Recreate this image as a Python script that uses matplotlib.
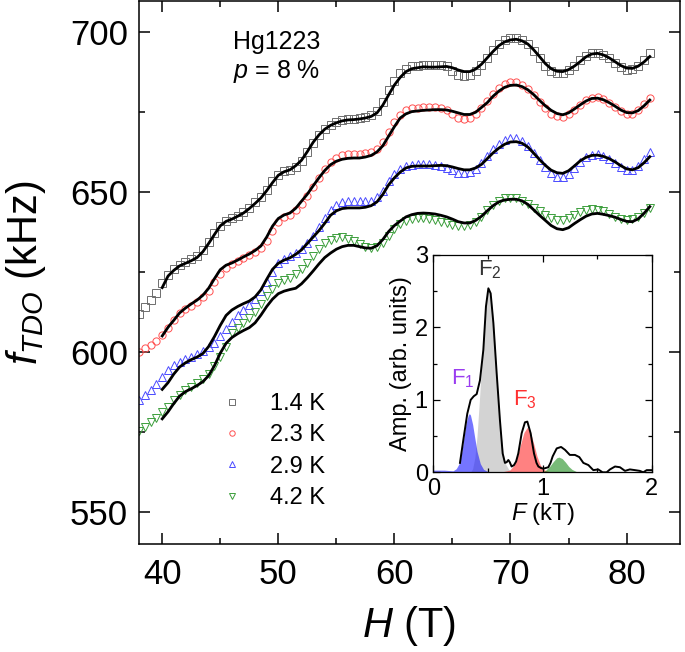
import numpy as np
import matplotlib
matplotlib.use('Agg')
import matplotlib.pyplot as plt
from matplotlib.ticker import MultipleLocator

plt.rcParams['font.family'] = ['Liberation Sans', 'DejaVu Sans']
plt.rcParams['mathtext.fontset'] = 'custom'
plt.rcParams['mathtext.rm'] = 'Liberation Sans'
plt.rcParams['mathtext.it'] = 'Liberation Sans:italic'
plt.rcParams['mathtext.bf'] = 'Liberation Sans:bold'

# ---- main panel: TDO frequency vs field ----
temps = ['1.4 K', '2.3 K', '2.9 K', '4.2 K']

# measured points, H = 38.0 ... 82.0 T every 0.5 T
H_data = np.arange(38.0, 82.01, 0.5)
f_14K = [612.0, 614.2, 616.2, 618.4, 621.6, 624.2, 626.0, 627.3, 628.2, 629.0,
         630.0, 631.8, 634.5, 637.2, 639.6, 641.0, 641.8, 642.7, 643.8, 645.2,
         646.8, 648.6, 650.8, 653.4, 655.5, 656.5, 657.0, 658.0, 659.8, 662.5,
         665.5, 668.0, 669.8, 671.0, 671.9, 672.5, 672.9, 673.0, 673.2, 673.5,
         674.0, 675.5, 678.3, 681.8, 684.8, 687.2, 688.6, 689.3, 689.6, 689.8,
         689.9, 689.9, 689.8, 689.3, 688.0, 686.6, 686.2, 686.6, 687.9, 689.8,
         692.0, 694.3, 696.2, 697.5, 698.2, 698.2, 697.5, 696.2, 694.2, 691.9,
         689.6, 687.9, 687.2, 687.3, 688.2, 689.6, 691.2, 692.6, 693.5, 693.6,
         693.0, 691.8, 690.3, 689.0, 688.3, 688.4, 689.5, 691.3, 693.5]
f_23K = [600.0, 601.4, 602.4, 603.6, 605.5, 607.6, 610.2, 612.2, 613.4, 614.6,
         615.8, 617.3, 619.2, 621.8, 624.5, 626.4, 627.5, 628.4, 629.4, 630.4,
         631.4, 632.6, 634.8, 637.8, 640.6, 642.2, 643.0, 644.4, 646.4, 648.8,
         651.6, 654.4, 657.2, 659.4, 660.8, 661.6, 662.0, 662.1, 662.1, 662.2,
         662.5, 663.4, 665.6, 668.8, 671.8, 674.2, 675.6, 676.2, 676.4, 676.5,
         676.6, 676.5, 676.2, 675.6, 674.4, 673.2, 672.8, 673.2, 674.5, 676.4,
         678.6, 680.8, 682.6, 683.9, 684.5, 684.4, 683.6, 682.2, 680.3, 678.2,
         676.2, 674.6, 673.7, 673.6, 674.4, 675.8, 677.3, 678.7, 679.6, 679.7,
         679.1, 678.0, 676.6, 675.3, 674.5, 674.6, 675.7, 677.6, 679.5]
f_29K = [585.0, 586.8, 588.2, 590.0, 592.2, 594.6, 596.0, 597.0, 597.8, 598.6,
         599.4, 600.3, 601.5, 603.0, 605.0, 607.4, 609.6, 611.6, 613.2, 614.8,
         616.6, 619.0, 622.0, 625.2, 627.8, 629.2, 630.0, 631.0, 632.4, 634.2,
         636.4, 639.0, 641.8, 644.4, 646.0, 646.9, 647.3, 647.4, 647.3, 647.2,
         647.4, 648.4, 650.5, 653.4, 655.8, 657.4, 658.2, 658.6, 658.7, 658.8,
         658.8, 658.6, 658.2, 657.6, 656.8, 656.1, 655.9, 656.3, 657.4, 659.2,
         661.3, 663.4, 665.1, 666.3, 666.9, 666.8, 666.0, 664.4, 662.3, 660.0,
         657.8, 656.0, 654.9, 654.8, 655.8, 657.6, 659.5, 660.9, 661.7, 661.8,
         661.3, 660.3, 659.0, 657.8, 657.0, 657.1, 658.2, 660.3, 662.5]
f_42K = [575.5, 576.8, 578.3, 579.6, 581.3, 582.9, 585.0, 586.7, 588.2, 589.3,
         590.4, 591.6, 593.2, 595.6, 598.6, 601.8, 606.0, 607.6, 609.0, 610.6,
         612.6, 615.0, 617.6, 619.8, 621.5, 622.5, 623.2, 624.3, 626.0, 628.0,
         630.2, 632.3, 634.0, 635.2, 635.8, 635.9, 635.5, 634.8, 633.8, 632.9,
         632.5, 632.8, 634.2, 636.3, 638.4, 640.0, 641.0, 641.6, 641.8, 641.8,
         641.6, 641.2, 640.8, 640.3, 639.8, 639.4, 639.3, 639.7, 640.8, 642.4,
         644.3, 646.0, 647.3, 648.1, 648.3, 648.1, 647.4, 646.4, 645.2, 644.0,
         642.8, 641.9, 641.4, 641.4, 641.9, 642.8, 643.7, 644.4, 644.7, 644.6,
         644.0, 643.1, 642.2, 641.6, 641.4, 641.6, 642.4, 643.6, 645.0]

# fits, H = 40.0 ... 82.0 T every 0.5 T
H_fit = np.arange(40.0, 82.01, 0.5)
fit_14K = [620.2, 623.8, 625.6, 627.0, 627.8, 628.6, 629.6, 631.4, 634.0, 636.8,
           639.5, 640.9, 641.6, 642.5, 643.5, 644.9, 646.5, 648.2, 650.5, 653.0,
           655.3, 656.4, 657.0, 658.3, 660.0, 662.7, 665.6, 667.9, 669.7, 670.9,
           671.7, 672.3, 672.6, 672.7, 672.9, 673.2, 673.7, 674.8, 677.2, 680.4,
           683.5, 685.9, 687.7, 688.6, 688.9, 689.2, 689.1, 689.1, 689.2, 689.3,
           688.9, 688.2, 687.7, 687.7, 688.5, 690.0, 692.0, 694.0, 695.8, 697.0,
           697.6, 697.8, 697.3, 696.3, 694.5, 692.4, 690.2, 688.6, 687.8, 687.7,
           688.3, 689.4, 690.8, 692.3, 693.2, 693.4, 692.9, 692.0, 690.8, 689.6,
           688.8, 688.7, 689.4, 690.7, 692.4]
fit_23K = [605.1, 607.8, 610.0, 612.3, 613.8, 615.1, 616.3, 617.8, 620.0, 623.0,
           625.8, 627.2, 627.9, 628.8, 629.8, 630.7, 631.8, 633.2, 636.0, 639.4,
           641.8, 642.9, 643.5, 645.0, 647.2, 649.4, 652.0, 654.5, 656.8, 658.6,
           659.7, 660.3, 660.6, 660.7, 660.7, 661.0, 661.5, 662.6, 664.5, 667.5,
           670.5, 673.2, 674.5, 675.2, 675.4, 675.6, 675.7, 675.8, 675.8, 675.7,
           675.3, 674.8, 674.3, 674.3, 675.0, 676.5, 678.0, 680.0, 681.6, 682.8,
           683.4, 683.5, 683.0, 682.0, 680.5, 678.7, 677.0, 675.6, 674.6, 674.2,
           674.8, 676.0, 677.3, 678.5, 679.3, 679.4, 678.9, 678.0, 676.9, 675.7,
           674.9, 674.8, 675.5, 677.0, 678.8]
fit_29K = [588.4, 590.5, 593.2, 595.4, 596.7, 597.7, 598.5, 599.6, 601.8, 604.9,
           608.4, 611.5, 613.2, 614.3, 615.2, 616.0, 617.3, 619.5, 622.8, 625.9,
           627.8, 628.8, 629.5, 630.6, 632.0, 634.0, 636.0, 638.0, 640.3, 642.8,
           644.2, 644.9, 645.1, 645.1, 645.1, 645.3, 645.8, 647.0, 649.3, 652.3,
           654.5, 656.3, 657.6, 658.1, 658.2, 658.2, 658.2, 658.3, 658.4, 658.3,
           657.9, 657.4, 657.0, 657.0, 657.6, 658.7, 660.5, 662.3, 663.8, 665.0,
           665.7, 665.8, 665.3, 664.1, 662.2, 660.2, 658.4, 656.9, 656.1, 655.9,
           656.7, 658.2, 659.8, 660.9, 661.5, 661.6, 661.2, 660.5, 659.5, 658.3,
           657.3, 657.0, 657.7, 659.2, 661.1]
fit_42K = [579.2, 581.4, 584.0, 586.3, 587.7, 588.6, 589.6, 590.8, 592.7, 595.8,
           599.7, 602.8, 604.6, 605.8, 606.8, 607.7, 609.2, 611.6, 614.3, 616.6,
           618.3, 619.1, 619.6, 620.0, 621.4, 623.3, 625.4, 627.6, 629.6, 631.0,
           632.2, 633.0, 633.4, 633.4, 633.0, 632.6, 632.5, 633.3, 635.2, 637.7,
           639.6, 641.0, 642.3, 643.0, 643.4, 643.5, 643.4, 643.2, 642.8, 642.3,
           641.6, 640.8, 640.4, 640.4, 641.2, 642.5, 644.2, 645.8, 647.0, 647.6,
           647.8, 647.8, 647.3, 646.2, 644.5, 642.8, 641.2, 639.6, 638.6, 638.3,
           638.9, 640.2, 641.4, 642.5, 643.2, 643.4, 643.1, 642.7, 642.2, 641.5,
           640.9, 640.8, 641.7, 643.4, 645.5]

# ---- inset: FFT amplitude ----
fft_F = [0.244, 0.275, 0.311, 0.342, 0.37, 0.397, 0.427, 0.458, 0.482, 0.504,
         0.525, 0.55, 0.58, 0.61, 0.635, 0.656, 0.672, 0.687, 0.70, 0.717,
         0.739, 0.758, 0.778, 0.809, 0.839, 0.861, 0.891, 0.922, 0.945, 0.962,
         0.985, 1.007, 1.03, 1.053, 1.073, 1.093, 1.13, 1.17, 1.206, 1.25,
         1.297, 1.337, 1.374, 1.42, 1.465, 1.51, 1.55, 1.587, 1.618, 1.664,
         1.709, 1.755, 1.80, 1.847, 1.89, 1.923, 1.954, 2.0]
fft_A = [0.13, 0.45, 0.81, 1.0, 1.05, 1.08, 1.27, 1.69, 2.29, 2.54,
         2.47, 2.06, 1.37, 0.72, 0.26, 0.13, 0.14, 0.17, 0.14, 0.08,
         0.10, 0.15, 0.26, 0.54, 0.69, 0.70, 0.54, 0.26, 0.13, 0.08,
         0.06, 0.05, 0.06, 0.07, 0.13, 0.22, 0.33, 0.35, 0.31, 0.24,
         0.24, 0.21, 0.13, 0.10, 0.03, 0.04, 0.0, 0.0, 0.04, 0.08,
         0.07, 0.02, 0.04, 0.03, 0.02, 0.0, 0.03, 0.03]

pk1_F = [0.0, 0.1, 0.18, 0.21, 0.24, 0.26, 0.28, 0.30, 0.32, 0.33, 0.34, 0.36,
         0.38, 0.40, 0.43, 0.46, 0.50]
pk1_A = [0.03, 0.03, 0.02, 0.05, 0.13, 0.28, 0.48, 0.68, 0.79, 0.81, 0.79, 0.66,
         0.47, 0.29, 0.12, 0.04, 0.01]
pk2_F = [0.34, 0.36, 0.38, 0.40, 0.42, 0.44, 0.46, 0.48, 0.50, 0.52, 0.54, 0.56,
         0.58, 0.60, 0.62, 0.64, 0.66, 0.69, 0.72]
pk2_A = [0.0, 0.05, 0.2, 0.5, 0.95, 1.45, 1.95, 2.35, 2.54, 2.5, 2.25, 1.85,
         1.35, 0.9, 0.52, 0.26, 0.12, 0.04, 0.01]
pk3_F = [0.60, 0.64, 0.70, 0.74, 0.77, 0.80, 0.83, 0.86, 0.89, 0.92, 0.95, 0.98,
         1.02, 1.08]
pk3_A = [0.01, 0.01, 0.03, 0.1, 0.22, 0.39, 0.55, 0.62, 0.55, 0.39, 0.22, 0.1,
         0.03, 0.0]
pk4_F = [0.98, 1.03, 1.07, 1.10, 1.13, 1.15, 1.18, 1.21, 1.24, 1.27, 1.31, 1.36]
pk4_A = [0.0, 0.03, 0.09, 0.15, 0.2, 0.21, 0.19, 0.14, 0.08, 0.04, 0.01, 0.0]


fig = plt.figure(figsize=(6.85, 6.52), dpi=100)
ax = fig.add_axes([0.2029, 0.1652, 0.7898, 0.8325])

styles = [('s', '#6e6e6e'), ('o', '#ff5050'), ('^', '#4a4aff'), ('v', '#3c9e3c')]
series = [f_14K, f_23K, f_29K, f_42K]
fits = [fit_14K, fit_23K, fit_29K, fit_42K]
for (m, c), y, lab in zip(styles, series, temps):
    ax.plot(H_data, y, ls='none', marker=m, ms=5.2, mfc='none', mec=c, mew=0.7,
            label=lab)
for y in fits:
    ax.plot(H_fit, y, color='black', lw=2.0, zorder=5)

ax.set_xlim(38, 84.6)
ax.set_ylim(540, 709.6)
ax.xaxis.set_major_locator(MultipleLocator(10))
ax.xaxis.set_minor_locator(MultipleLocator(5))
ax.yaxis.set_major_locator(MultipleLocator(50))
ax.yaxis.set_minor_locator(MultipleLocator(25))
ax.tick_params(which='both', direction='in', top=True, right=True, width=1.1)
ax.tick_params(which='major', length=8, labelsize=25, pad=8)
ax.tick_params(which='minor', length=4.5)
ax.tick_params(axis='x', which='major', pad=10)
for s in ax.spines.values():
    s.set_linewidth(1.1)
ax.set_xlabel('$H$ (T)', fontsize=30, labelpad=9)
ax.set_ylabel('$f_{TDO}$ (kHz)', fontsize=30, labelpad=16)

ax.text(0.174, 0.948, 'Hg1223\n$p$ = 8 %', transform=ax.transAxes,
        fontsize=18, va='top', ha='left', linespacing=1.2)

ax.legend(loc='upper left', bbox_to_anchor=(0.150, 0.279), frameon=False,
          fontsize=17, handlelength=1.0, handletextpad=1.1, labelspacing=0.4,
          borderpad=0, borderaxespad=0, markerscale=0.75)

# inset
ins = fig.add_axes([0.6326, 0.2756, 0.3188, 0.3333])
ins.fill_between(pk2_F, pk2_A, color='#cfcfcf', alpha=0.9, lw=0)
ins.fill_between(pk1_F, pk1_A, color='#1a1aff', alpha=0.6, lw=0)
ins.fill_between(pk3_F, pk3_A, color='#ff1a1a', alpha=0.55, lw=0)
ins.fill_between(pk4_F, pk4_A, color='#1f8f1f', alpha=0.6, lw=0)
ins.plot(fft_F, fft_A, color='black', lw=1.4)
ins.set_xlim(0, 2)
ins.set_ylim(0, 3)
ins.xaxis.set_major_locator(MultipleLocator(1))
ins.xaxis.set_minor_locator(MultipleLocator(0.5))
ins.yaxis.set_major_locator(MultipleLocator(1))
ins.yaxis.set_minor_locator(MultipleLocator(0.5))
ins.tick_params(which='both', direction='in', top=True, right=True, width=0.9)
ins.tick_params(which='major', length=5, labelsize=17, pad=4)
ins.tick_params(which='minor', length=3)
for s in ins.spines.values():
    s.set_linewidth(0.9)
ins.set_xlabel('$F$ (kT)', fontsize=17, labelpad=1)
ins.set_ylabel('Amp. (arb. units)', fontsize=17, labelpad=2)
ins.text(0.27, 1.22, '$\\mathrm{F}_{1}$', color='#9a3cf0', fontsize=16, ha='center')
ins.text(0.52, 2.72, '$\\mathrm{F}_{2}$', color='#333333', fontsize=16, ha='center')
ins.text(0.84, 0.92, '$\\mathrm{F}_{3}$', color='#ff3030', fontsize=16, ha='center')

fig.savefig('out.png', dpi=100)
